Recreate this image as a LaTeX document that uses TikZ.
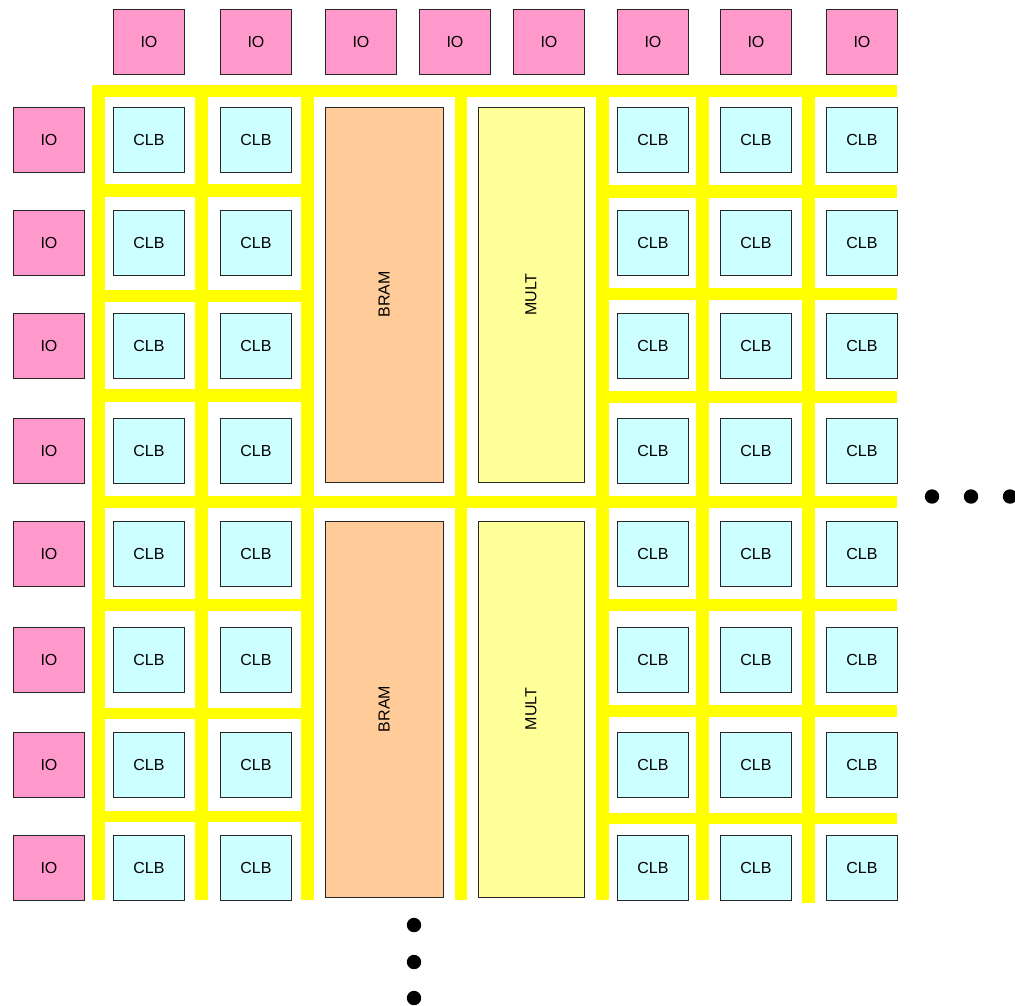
\documentclass[tikz,border=0pt]{standalone}
\usepackage{fontspec}
\setmainfont{Liberation Sans}
\definecolor{iopink}{HTML}{FF99CC}
\definecolor{clbcyan}{HTML}{CCFFFF}
\definecolor{bramor}{HTML}{FFCC99}
\definecolor{multy}{HTML}{FFFF99}
\definecolor{route}{HTML}{FFFF00}
\begin{document}
\begin{tikzpicture}[x=1pt,y=-1pt,
  blk/.style={draw=black!85, line width=0.9pt, inner sep=0pt, font=\fontsize{16}{16}\selectfont},
  cell/.style={blk, anchor=north west, minimum width=71pt, minimum height=65pt},
  io/.style={cell, fill=iopink},
  clb/.style={cell, fill=clbcyan},
  bram/.style={blk, fill=bramor, rotate=90, minimum height=118pt},
  mult/.style={blk, fill=multy, rotate=90, minimum height=106pt},
  wire/.style={fill=route, draw=none},
  dot/.style={fill=black, draw=none}]
\useasboundingbox (0,0) rectangle (1015,1006);
% routing channels
\fill[wire] (92,85) rectangle (897,97);
\fill[wire] (92,496) rectangle (897,508);
\foreach \ya/\yb in {184/197,290/302,389/402,599/611,708/719,811/822}
  \fill[wire] (92,\ya) rectangle (313,\yb);
\foreach \ya/\yb in {185/198,288/300,391/403,599/611,705/717,813/824}
  \fill[wire] (596,\ya) rectangle (897,\yb);
\foreach \xa/\xb in {92/105,195/208,301/314,455/467,596/609,696/709}
  \fill[wire] (\xa,85) rectangle (\xb,900);
\fill[wire] (802,85) rectangle (815,902.5);
% top IO
\foreach \x [count=\i] in {113,220,325,419,513,617,720,826}
  \node[io] (iot\i) at (\x,9) {IO};
% left IO
\foreach \y [count=\j] in {107,210,313,418,521,627,732,835}
  \node[io] (iol\j) at (13,\y) {IO};
% CLBs
\foreach \y [count=\j] in {107,210,313,418,521,627,732,835}
  \foreach \x [count=\i] in {113,220,617,720,826}
    \node[clb] (clb\i-\j) at (\x,\y) {CLB};
% BRAM and MULT
\node[bram, minimum width=375pt] (bram1) at (384,294.5) {BRAM};
\node[bram, minimum width=376pt] (bram2) at (384,709) {BRAM};
\node[mult, minimum width=375pt] (mult1) at (531,294.5) {MULT};
\node[mult, minimum width=376pt] (mult2) at (531,709) {MULT};
% ellipsis dots
\foreach \x [count=\k] in {932,971,1010}
  \fill[dot] (\x,496.5) circle (7.2);
\foreach \y [count=\k] in {925,962,998}
  \fill[dot] (414,\y) circle (7.2);
\end{tikzpicture}
\end{document}
